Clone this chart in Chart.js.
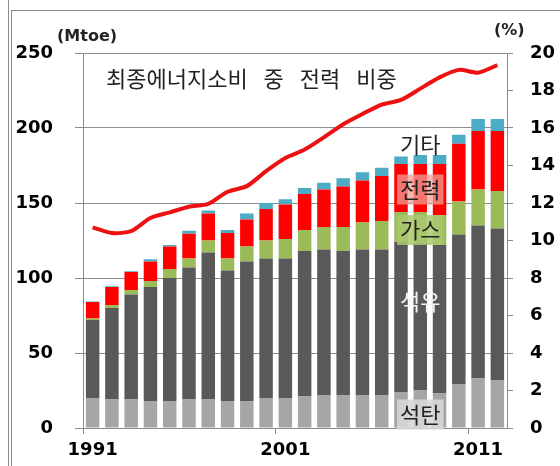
<!DOCTYPE html>
<html>
<head>
<meta charset="utf-8">
<script src="https://cdn.jsdelivr.net/npm/chart.js@4.4.1/dist/chart.umd.min.js"></script>
<style>
  html, body { margin: 0; padding: 0; background: #fff; }
  #wrap { position: relative; width: 560px; height: 466px; overflow: hidden; }
  #chart { position: absolute; left: 0; top: 0; }
  .frame { position: absolute; background: #8c8c8c; }
</style>
</head>
<body>
<div id="wrap">
  <div class="frame" style="left:8px;top:0;width:1px;height:466px;"></div>
  <div class="frame" style="left:11px;top:10px;width:1px;height:456px;"></div>
  <div class="frame" style="left:11px;top:10px;width:549px;height:1px;"></div>
  <canvas id="chart" width="560" height="466"></canvas>
</div>
<script>
// years on the x axis
const years = ['1991','1992','1993','1994','1995','1996','1997','1998','1999','2000','2001',
               '2002','2003','2004','2005','2006','2007','2008','2009','2010','2011','2012'];

// final energy consumption by source (Mtoe)
const coal  = [20, 19, 19, 18, 18, 19, 19, 18, 18, 20, 20, 21, 22, 22, 22, 22, 24, 25, 23, 29, 33, 32];
const oil   = [52, 61, 70, 76, 82, 88, 98, 87, 93, 93, 93, 97, 97, 96, 97, 97, 100, 98, 99, 100, 102, 101];
const gas   = [1, 2, 3, 4, 6, 6, 8, 8, 10, 12, 13, 14, 15, 16, 18, 19, 20, 21, 20, 22, 24, 25];
const power = [11, 12, 12, 13, 15, 16.5, 18, 17, 18, 21, 23, 24, 25, 27, 28, 30, 32, 32, 34, 38.5, 39, 40];
const other = [0.3, 0.5, 0.5, 1.5, 1, 2, 2, 2, 4, 4, 3.5, 4, 4.5, 5.5, 5.5, 5.5, 5, 6, 6, 6, 8, 8];

// share of electricity in final energy consumption (%)
const powerShare = [10.7, 10.4, 10.5, 11.2, 11.5, 11.8, 11.95, 12.6, 12.9, 13.7, 14.4,
                    14.85, 15.5, 16.2, 16.75, 17.25, 17.5, 18.1, 18.7, 19.1, 18.95, 19.35];

const seriesNames = ['석탄', '석유', '가스', '전력', '기타'];
const shareName = '최종에너지소비 중 전력 비중';

const tickFont = { family: 'DejaVu Sans', size: 18, weight: 'bold' };
const korFont = '22px "Noto Sans CJK KR"';

// text labels inside the plot, positioned on the scales (category index, Mtoe value)
const insideLabels = [
    { text: '기타', cat: 17, val: 189, color: '#222', bg: null },
    { text: '전력', cat: 17, val: 159, color: '#222', bg: 'rgba(242,160,150,0.75)' },
    { text: '가스', cat: 17, val: 132, color: '#222', bg: 'rgba(170,200,110,0.85)' },
    { text: '석유', cat: 17, val: 84, color: '#f2f2f2', bg: null },
    { text: '석탄', cat: 17, val: 9, color: '#222', bg: 'rgba(215,215,215,0.9)' }
];

const labelPlugin = {
    id: 'labels',
    afterDatasetsDraw(chart) {
        const ctx = chart.ctx;
        const xs = chart.scales.x;
        const ys = chart.scales.y;
        const area = chart.chartArea;
        ctx.save();
        ctx.font = korFont;
        ctx.textBaseline = 'middle';

        // series title line, spaces are wide in the original
        ctx.fillStyle = '#222';
        ctx.textAlign = 'left';
        ctx.wordSpacing = '11px';
        ctx.fillText(shareName, area.left + 23, ys.getPixelForValue(233));
        ctx.wordSpacing = '0px';

        insideLabels.forEach(l => {
            const x = xs.getPixelForValue(l.cat);
            const y = ys.getPixelForValue(l.val);
            const w = ctx.measureText(l.text).width;
            if (l.bg) {
                ctx.fillStyle = l.bg;
                ctx.fillRect(x - w / 2 - 3, y - 15, w + 6, 30);
            }
            ctx.fillStyle = l.color;
            ctx.textAlign = 'center';
            ctx.fillText(l.text, x, y);
        });

        // unit labels
        ctx.font = 'bold 16px "DejaVu Sans"';
        ctx.fillStyle = '#222';
        ctx.textAlign = 'left';
        ctx.fillText('(Mtoe)', area.left - 26, area.top - 16);
        ctx.fillText('(%)', area.right - 13, area.top - 22);
        ctx.restore();
    }
};

const ctx = document.getElementById('chart').getContext('2d');
new Chart(ctx, {
    type: 'bar',
    data: {
        labels: years,
        datasets: [
            { label: seriesNames[0], data: coal,  backgroundColor: '#a6a6a6', order: 2 },
            { label: seriesNames[1], data: oil,   backgroundColor: '#595959', order: 2 },
            { label: seriesNames[2], data: gas,   backgroundColor: '#9bbb59', order: 2 },
            { label: seriesNames[3], data: power, backgroundColor: '#ff0000', order: 2 },
            { label: seriesNames[4], data: other, backgroundColor: '#4bacc6', order: 2 },
            {
                type: 'line',
                label: shareName,
                data: powerShare,
                yAxisID: 'y1',
                borderColor: '#ee1111',
                borderWidth: 4,
                pointRadius: 0,
                tension: 0.25,
                order: 1
            }
        ]
    },
    options: {
        responsive: false,
        animation: false,
        barPercentage: 0.7,
        categoryPercentage: 1,
        layout: { padding: { top: 53, left: 0, right: 0, bottom: 0 } },
        plugins: {
            legend: { display: false },
            tooltip: { enabled: false }
        },
        scales: {
            x: {
                stacked: true,
                grid: {
                    offset: true,
                    drawOnChartArea: false,
                    tickLength: 6,
                    color: c => (c.index % 10 === 0 ? '#8c8c8c' : 'rgba(0,0,0,0)')
                },
                border: { color: '#8c8c8c' },
                ticks: {
                    autoSkip: false,
                    maxRotation: 0,
                    padding: 6,
                    color: '#000',
                    font: tickFont,
                    callback: (v, i) => (i % 10 === 0 ? years[i] : '')
                },
                afterFit: s => { s.height = 38; }
            },
            y: {
                stacked: true,
                min: 0,
                max: 250,
                ticks: { stepSize: 50, padding: 22, color: '#000', font: tickFont },
                grid: { color: '#8c8c8c', tickLength: 8 },
                border: { color: '#8c8c8c' },
                afterFit: s => { s.width = 83; }
            },
            y1: {
                position: 'right',
                min: 0,
                max: 20,
                ticks: { stepSize: 2, padding: 17, color: '#000', font: tickFont },
                grid: { drawOnChartArea: false, color: '#8c8c8c', tickLength: 6 },
                border: { color: '#8c8c8c' },
                afterFit: s => { s.width = 53; }
            }
        }
    },
    plugins: [labelPlugin]
});
</script>
</body>
</html>
